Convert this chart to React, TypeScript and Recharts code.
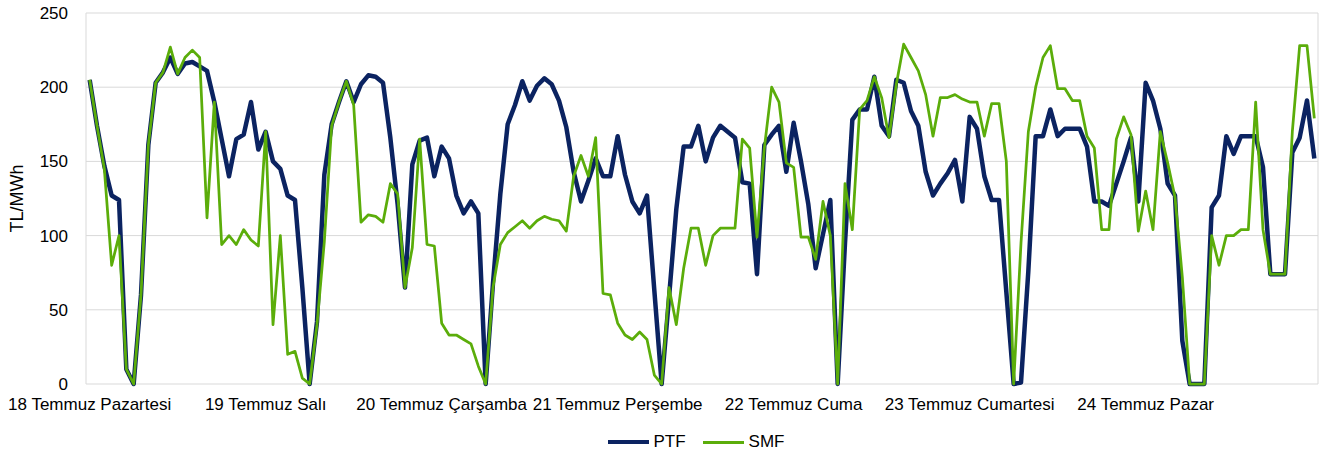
import React from 'react';
import { LineChart, Line, XAxis, YAxis, CartesianGrid, Legend } from 'recharts';

const DAY_LABELS = [
  '18 Temmuz Pazartesi',
  '19 Temmuz Salı',
  '20 Temmuz Çarşamba',
  '21 Temmuz Perşembe',
  '22 Temmuz Cuma',
  '23 Temmuz Cumartesi',
  '24 Temmuz Pazar',
];

const Y_TICKS = [0, 50, 100, 150, 200, 250];
const GRID_TICKS = [0, 12, 24, 36, 48, 60, 72, 84, 96, 108, 120, 132, 144, 156, 168];
const LABEL_TICKS = [0.5, 24.5, 48.5, 72.5, 96.5, 120.5, 144.5];

// hourly PTF (TL/MWh), 18-24 July
const PTF = [
  205, 174, 147, 127, 124, 10, 0, 60, 161, 203, 210, 220, 209, 216, 217, 214, 211, 190, 165, 140, 165, 168, 190, 158,
  170, 150, 145, 127, 124, 65, 0, 42, 141, 175, 190, 204, 190, 202, 208, 207, 203, 166, 121, 65, 148, 164, 166, 140,
  160, 152, 127, 115, 123, 115, 0, 68, 128, 175, 188, 204, 191, 201, 206, 202, 191, 173, 143, 123, 137, 152, 140, 140,
  167, 141, 123, 115, 127, 63, 0, 58, 118, 160, 160, 174, 150, 166, 174, 170, 166, 136, 135, 74, 161, 168, 174, 143,
  176, 150, 121, 78, 101, 124, 0, 95, 178, 185, 185, 207, 174, 167, 205, 203, 184, 174, 143, 127, 135, 142, 151, 123,
  180, 172, 140, 124, 124, 62, 0, 1, 76, 167, 167, 185, 167, 172, 172, 172, 160, 123, 123, 120, 135, 150, 166, 123,
  203, 191, 172, 135, 127, 29, 0, 0, 0, 119, 127, 167, 155, 167, 167, 167, 146, 74, 74, 74, 156, 166, 191, 152,
];

// hourly SMF (TL/MWh), 18-24 July
const SMF = [
  205, 174, 145, 80, 100, 10, 0, 60, 161, 203, 210, 227, 209, 220, 225, 220, 112, 190, 94, 100, 94, 104, 97, 93,
  170, 40, 100, 20, 22, 4, 0, 40, 96, 174, 190, 204, 188, 109, 114, 113, 109, 135, 128, 65, 92, 165, 94, 93,
  41, 33, 33, 30, 27, 12, 0, 65, 94, 102, 106, 110, 105, 110, 113, 111, 110, 103, 140, 154, 140, 166, 61, 60,
  41, 33, 30, 35, 30, 6, 0, 65, 40, 78, 105, 105, 80, 100, 105, 105, 105, 165, 159, 99, 159, 200, 190, 149,
  146, 99, 99, 84, 123, 100, 0, 135, 104, 185, 191, 207, 193, 166, 202, 229, 220, 211, 195, 167, 193, 193, 195, 192,
  190, 190, 167, 189, 189, 150, 0, 95, 170, 200, 220, 228, 199, 199, 191, 191, 167, 159, 104, 104, 165, 180, 168, 103,
  130, 104, 170, 149, 126, 72, 0, 0, 0, 100, 80, 100, 100, 104, 104, 190, 104, 74, 74, 74, 170, 228, 228, 179,
];

const PTF_COLOR = '#0B2361';
const SMF_COLOR = '#5BAD0A';
const FONT = '"Liberation Sans", Arial, sans-serif';

const data = PTF.map((v, i) => ({ x: i + 0.5, PTF: v, SMF: SMF[i] }));

const LegendContent = (props: any) => {
  const items = [
    { name: 'PTF', color: PTF_COLOR, w: 4 },
    { name: 'SMF', color: SMF_COLOR, w: 3 },
  ];
  return (
    <div
      style={{
        height: 30,
        display: 'flex',
        justifyContent: 'center',
        alignItems: 'center',
        paddingLeft: 74,
        fontFamily: FONT,
        fontSize: 17,
        color: '#000',
      }}
    >
      {items.map((it, k) => (
        <div key={it.name} style={{ display: 'flex', alignItems: 'center', marginRight: k === 0 ? 17 : 0 }}>
          <span style={{ display: 'inline-block', width: 41, height: it.w, background: it.color, marginRight: 5 }} />
          <span>{it.name}</span>
        </div>
      ))}
    </div>
  );
};

const YLabel = (props: any) => {
  const vb = props.viewBox || {};
  const cx = vb.x + 17;
  const cy = vb.y + vb.height / 2;
  return (
    <text
      x={cx}
      y={cy}
      transform={`rotate(-90, ${cx}, ${cy})`}
      textAnchor="middle"
      dominantBaseline="central"
      fontSize={18}
      fontFamily={FONT}
      fill="#000"
    >
      TL/MWh
    </text>
  );
};

export default function App() {
  return (
    <div style={{ position: 'absolute', left: 0, top: 0, fontFamily: FONT }}>
      <LineChart width={1320} height={457} data={data} margin={{ top: 13, right: 2, bottom: 0, left: 0 }}>
        <CartesianGrid xAxisId="grid" stroke="#D9D9D9" strokeWidth={1} />
        <XAxis
          xAxisId="grid"
          type="number"
          dataKey="x"
          domain={[0, 168]}
          ticks={GRID_TICKS}
          tick={false}
          tickLine={false}
          axisLine={false}
          height={0}
        />
        <XAxis
          xAxisId="lab"
          type="number"
          dataKey="x"
          domain={[0, 168]}
          ticks={LABEL_TICKS}
          interval={0}
          tickFormatter={(v: number) => DAY_LABELS[Math.floor(v / 24)]}
          tickLine={false}
          axisLine={false}
          tickSize={0}
          tickMargin={14}
          height={43}
          tick={{ fontSize: 17, fill: '#000', fontFamily: FONT }}
        />
        <YAxis
          type="number"
          domain={[0, 250]}
          ticks={Y_TICKS}
          interval={0}
          width={86}
          tickLine={false}
          axisLine={false}
          tickSize={0}
          tickMargin={18}
          tick={{ fontSize: 17, fill: '#000', fontFamily: FONT }}
          label={<YLabel />}
        />
        <Legend verticalAlign="bottom" content={<LegendContent />} wrapperStyle={{ height: 30 }} />
        <Line
          xAxisId="lab"
          type="linear"
          dataKey="PTF"
          name="PTF"
          stroke={PTF_COLOR}
          strokeWidth={4.5}
          dot={false}
          isAnimationActive={false}
          strokeLinejoin="round"
        />
        <Line
          xAxisId="lab"
          type="linear"
          dataKey="SMF"
          name="SMF"
          stroke={SMF_COLOR}
          strokeWidth={2.75}
          dot={false}
          isAnimationActive={false}
          strokeLinejoin="round"
        />
      </LineChart>
    </div>
  );
}
